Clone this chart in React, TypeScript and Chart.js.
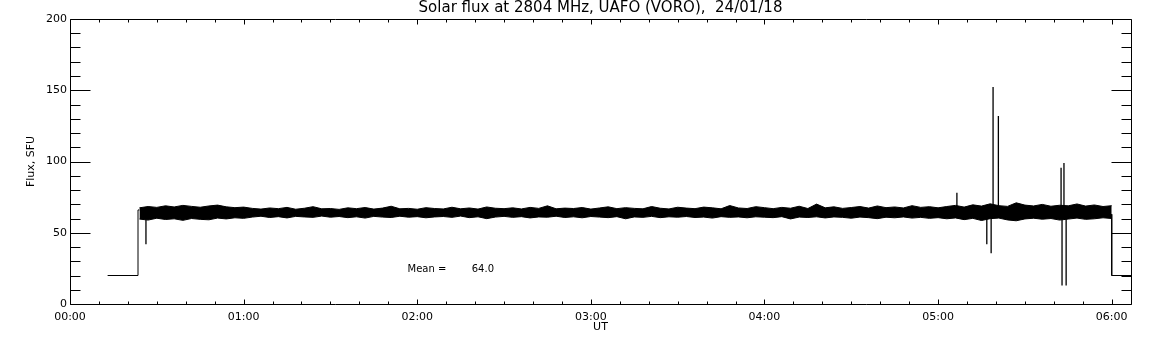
import React, { useEffect, useRef } from 'react';
import { Chart, registerables } from 'chart.js';

Chart.register(...registerables);

// ---- text ----
const TITLE = 'Solar flux at 2804 MHz, UAFO (VORO),  24/01/18';
const Y_TITLE = 'Flux, SFU';
const X_TITLE = 'UT';

// ---- axes (x in seconds of UT) ----
const X_MIN = 0;
const X_MAX = 22000;
const X_MAJOR = 3600;
const X_MINOR = 600;
const Y_MIN = 0;
const Y_MAX = 200;
const Y_MAJOR = 50;
const Y_MINOR = 10;
const xTickValues = [0, 3600, 7200, 10800, 14400, 18000, 21600];
const xTickLabels = ['00:00', '01:00', '02:00', '03:00', '04:00', '05:00', '06:00'];
const yTickValues = [0, 50, 100, 150, 200];

// ---- data ----
const leadTimes = [780, 1410, 1410, 1440];
const leadValues = [20, 20, 66, 66];

const tailTimes = [21600, 21600, 22000];
const tailValues = [63, 20, 20];

const bandStart = 1440;
const bandStep = 180;
const bandHigh = [
  67.5, 68.4, 67.8, 68.9, 68.1, 69.2, 68.5, 67.9, 68.8, 69.4, 68.2, 67.6, 68.0,
  67.1, 66.6, 67.4, 66.9, 67.8, 66.5, 67.2, 68.3, 66.8, 67.0,
  66.4, 67.5, 66.9, 67.7, 66.6, 67.3, 68.6, 66.8, 67.1, 66.5,
  67.6, 67.0, 66.7, 67.9, 66.8, 67.4, 66.6, 68.1, 67.2, 66.9,
  67.5, 66.7, 67.8, 67.1, 68.9, 66.8, 67.3, 67.0, 67.7, 66.6,
  67.4, 68.2, 66.9, 67.6, 67.1, 66.8, 68.4, 67.2, 66.7, 67.9,
  67.3, 66.9, 68.0, 67.5, 66.8, 69.1, 67.4, 67.0, 68.3, 67.6,
  66.9, 67.8, 67.2, 68.6, 67.0, 70.1, 67.5, 68.2, 67.1, 67.7,
  68.4, 67.3, 68.8, 67.6, 68.1, 67.4, 69.0, 67.8, 68.3, 67.5,
  68.4, 69.2, 68.0, 69.6, 68.7, 70.3, 69.0, 68.5, 71.0, 69.4,
  68.8, 69.9, 68.6, 69.3, 68.9, 70.2, 68.7, 69.5, 68.4, 69.0,
];
const bandLow = [
  59.6, 58.9, 60.2, 59.3, 59.8, 58.7, 60.0, 59.4, 59.1, 60.3, 59.7, 60.5, 60.1,
  61.0, 61.6, 60.7, 61.3, 60.4, 61.5, 61.1, 60.8, 61.7, 60.9,
  61.4, 60.6, 61.2, 60.3, 61.5, 61.0, 60.7, 61.6, 60.9, 61.3,
  60.5, 61.1, 61.4, 60.8, 61.7, 60.6, 61.2, 59.9, 61.0, 61.5,
  60.8, 61.3, 60.4, 61.1, 60.9, 61.6, 60.7, 61.2, 60.5, 61.4,
  61.0, 60.6, 61.3, 59.8, 61.1, 60.8, 61.5, 60.6, 61.2, 60.9,
  61.4, 60.7, 61.0, 60.3, 61.3, 60.8, 61.1, 60.5, 61.2, 60.9,
  60.6, 61.3, 59.7, 61.0, 60.7, 61.2, 60.4, 61.1, 60.8, 60.2,
  61.0, 60.6, 59.9, 60.9, 60.5, 61.1, 60.3, 60.8, 60.1, 60.6,
  59.8, 60.4, 59.2, 60.1, 58.6, 59.9, 60.3, 59.0, 58.4, 59.7,
  60.2, 59.5, 60.0, 58.9, 59.6, 60.3, 59.4, 59.8, 60.5, 60.0,
];

const spikeBase = 64;
const spikeTimes = [1575, 18390, 19010, 19100, 19140, 19250, 20550, 20570, 20610, 20655];
const spikeValues = [42, 78, 42, 35.6, 152.3, 132, 95.7, 12.9, 98.9, 12.9];

const meanValue = 64.0;
const meanLabelTime = 7000;
const meanValueTime = 8330;
const meanLabelFlux = 24;

const FONT = '"DejaVu Sans", sans-serif';

const framePlugin = {
  id: 'idlFrame',
  afterDraw(chart: any) {
    const { ctx, chartArea: a, scales } = chart;
    const x = scales.x;
    const y = scales.y;
    const L = Math.round(a.left) + 0.5;
    const R = Math.round(a.right) + 0.5;
    const T = Math.round(a.top) + 0.5;
    const B = Math.round(a.bottom) + 0.5;
    ctx.save();
    ctx.strokeStyle = '#000';
    ctx.lineWidth = 1;
    ctx.beginPath();
    ctx.rect(L, T, R - L, B - T);
    for (let t = X_MIN; t <= X_MAX; t += X_MINOR) {
      const px = Math.round(x.getPixelForValue(t)) + 0.5;
      const len = t % X_MAJOR === 0 ? 5 : 3;
      ctx.moveTo(px, B);
      ctx.lineTo(px, B - len);
      ctx.moveTo(px, T);
      ctx.lineTo(px, T + len);
    }
    for (let v = Y_MIN; v <= Y_MAX; v += Y_MINOR) {
      const py = Math.round(y.getPixelForValue(v)) + 0.5;
      const len = v % Y_MAJOR === 0 ? 20 : 10;
      ctx.moveTo(L, py);
      ctx.lineTo(L + len, py);
      ctx.moveTo(R, py);
      ctx.lineTo(R - len, py);
    }
    ctx.stroke();
    ctx.fillStyle = '#000';
    ctx.font = '10px ' + FONT;
    ctx.textBaseline = 'middle';
    ctx.textAlign = 'left';
    const my = y.getPixelForValue(meanLabelFlux);
    ctx.fillText('Mean =', x.getPixelForValue(meanLabelTime), my);
    ctx.fillText(meanValue.toFixed(1), x.getPixelForValue(meanValueTime), my);
    ctx.restore();
  },
};

export default function App() {
  const ref = useRef<HTMLCanvasElement | null>(null);

  useEffect(() => {
    if (!ref.current) return;
    const pts = (ts: number[], vs: number[]) => ts.map((t, i) => ({ x: t, y: vs[i] }));
    const bandTimes = bandHigh.map((_, i) => bandStart + bandStep * i);
    const spikeData: any[] = [];
    spikeTimes.forEach((t, i) => {
      spikeData.push({ x: t, y: spikeBase });
      spikeData.push({ x: t, y: spikeValues[i] });
      spikeData.push({ x: t, y: null });
    });
    const line = {
      borderColor: '#000',
      borderWidth: 1,
      pointRadius: 0,
      fill: false,
      tension: 0,
    };
    const chart = new Chart(ref.current, {
      type: 'line',
      data: {
        datasets: [
          { ...line, label: 'lead', data: pts(leadTimes, leadValues) },
          {
            ...line,
            label: 'bandHigh',
            data: pts(bandTimes, bandHigh),
            fill: '+1',
            backgroundColor: '#000',
          },
          { ...line, label: 'bandLow', data: pts(bandTimes, bandLow.slice(0, bandTimes.length)) },
          { ...line, label: 'spikes', data: spikeData, spanGaps: false, borderWidth: 1.3 },
          { ...line, label: 'tail', data: pts(tailTimes, tailValues) },
        ],
      },
      options: {
        animation: false,
        responsive: false,
        events: [],
        layout: { padding: { left: 0, right: 21, top: 0, bottom: 0 } },
        plugins: {
          legend: { display: false },
          tooltip: { enabled: false },
          title: {
            display: true,
            fullSize: false,
            text: TITLE,
            color: '#000',
            font: { family: FONT, size: 15, weight: 'normal', lineHeight: '15px' },
            padding: { top: 1, bottom: 3 },
          },
        },
        scales: {
          x: {
            type: 'linear',
            min: X_MIN,
            max: X_MAX,
            afterBuildTicks: (axis: any) => {
              axis.ticks = xTickValues.map((v) => ({ value: v }));
            },
            afterFit: (axis: any) => {
              axis.height = 41;
            },
            grid: { display: false, drawTicks: false },
            border: { display: false },
            ticks: {
              color: '#000',
              font: { family: FONT, size: 11 },
              padding: 7,
              maxRotation: 0,
              autoSkip: false,
              callback: (v: any) => {
                const i = xTickValues.indexOf(Number(v));
                return i >= 0 ? xTickLabels[i] : '';
              },
            },
            title: {
              display: true,
              text: X_TITLE,
              color: '#000',
              font: { family: FONT, size: 11 },
              padding: { top: 0, bottom: 11 },
            },
          },
          y: {
            type: 'linear',
            min: Y_MIN,
            max: Y_MAX,
            afterBuildTicks: (axis: any) => {
              axis.ticks = yTickValues.map((v) => ({ value: v }));
            },
            afterFit: (axis: any) => {
              axis.width = 70;
            },
            grid: { display: false, drawTicks: false },
            border: { display: false },
            ticks: {
              color: '#000',
              font: { family: FONT, size: 11 },
              padding: 3,
              autoSkip: false,
            },
            title: {
              display: true,
              text: Y_TITLE,
              color: '#000',
              font: { family: FONT, size: 11 },
              padding: { top: 25, bottom: 0 },
            },
          },
        },
      },
      plugins: [framePlugin],
    } as any);
    return () => chart.destroy();
  }, []);

  return (
    <div style={{ position: 'absolute', left: 0, top: 0, width: 1152, height: 345, background: '#fff' }}>
      <canvas ref={ref} width={1152} height={345} />
    </div>
  );
}
